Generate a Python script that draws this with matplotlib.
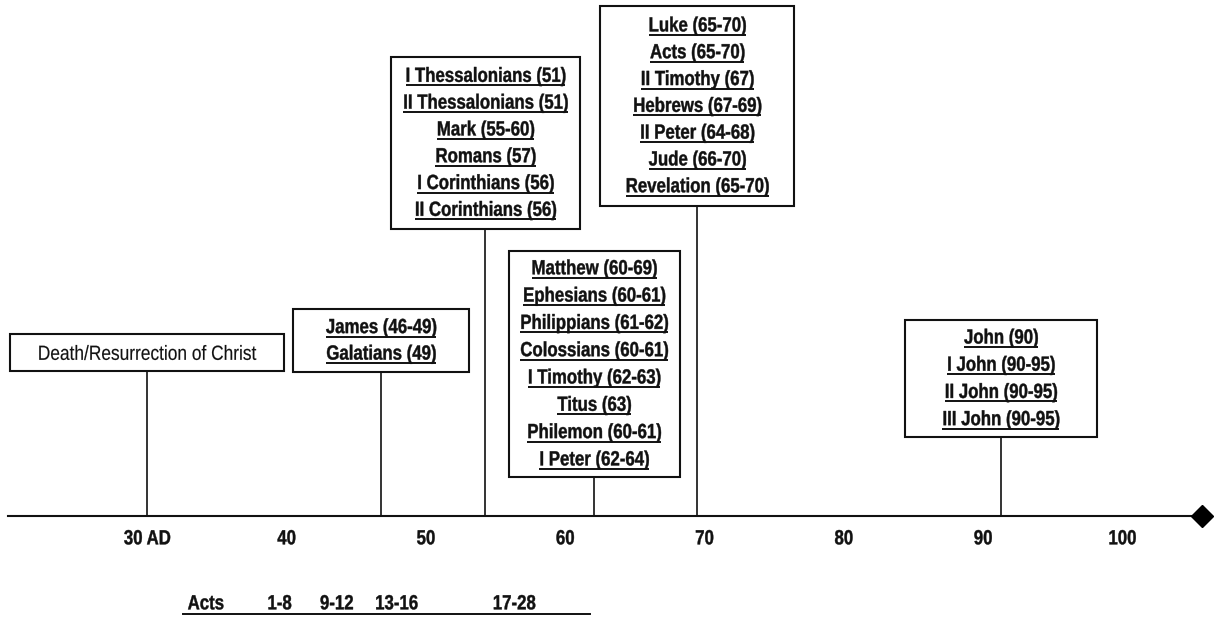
import matplotlib
matplotlib.use('Agg')
import matplotlib.pyplot as plt
from matplotlib.patches import Rectangle, PathPatch
from matplotlib.textpath import TextPath
from matplotlib.font_manager import FontProperties
from matplotlib.transforms import Affine2D

# axis ticks
tick_years = [30, 40, 50, 60, 70, 80, 90, 100]
tick_labels = ['30 AD', '40', '50', '60', '70', '80', '90', '100']

# events on the timeline (year where the stem meets the axis)
event_years = [30, 46.8, 54.3, 62.1, 69.5, 91.3]
event_texts = [
    ['Death/Resurrection of Christ'],
    ['James (46-49)', 'Galatians (49)'],
    ['I Thessalonians (51)', 'II Thessalonians (51)', 'Mark (55-60)',
     'Romans (57)', 'I Corinthians (56)', 'II Corinthians (56)'],
    ['Matthew (60-69)', 'Ephesians (60-61)', 'Philippians (61-62)',
     'Colossians (60-61)', 'I Timothy (62-63)', 'Titus (63)',
     'Philemon (60-61)', 'I Peter (62-64)'],
    ['Luke (65-70)', 'Acts (65-70)', 'II Timothy (67)', 'Hebrews (67-69)',
     'II Peter (64-68)', 'Jude (66-70)', 'Revelation (65-70)'],
    ['John (90)', 'I John (90-95)', 'II John (90-95)', 'III John (90-95)'],
]

# Acts chapters row
acts_labels = ['Acts', '1-8', '9-12', '13-16', '17-28']
acts_years = [34.2, 39.5, 43.6, 47.9, 56.35]

# ---- layout (pixel-like units on y, years on x) ----
px_per_year = 13.93
box_w_px = [275, 176, 189, 171, 194, 192]
box_top = [334, 309, 57, 251, 6, 320]
box_bot = [371, 372, 229, 477, 206, 437]
line_step = [27, 26.5, 26.8, 27.3, 26.8, 27.2]
axis_y = 516
FS = 20.5          # font size in pixels
SQUEEZE = 0.82     # narrow (condensed) look

fig = plt.figure(figsize=(12.15, 6.18), dpi=100)
ax = fig.add_axes([0, 0, 1, 1])
ax.set_xlim(30 - 147 / px_per_year, 30 + (1215 - 147) / px_per_year)
ax.set_ylim(618, 0)
ax.axis('off')

fp_bold = FontProperties(family='Liberation Sans', weight='bold')
fp_reg = FontProperties(family='Liberation Sans', weight='normal')


def narrow_text(x, yc, s, bold=True, under=False, size=FS, squeeze=SQUEEZE):
    # text squeezed horizontally, centred on (x, yc) in data coords
    tp = TextPath((0, 0), s, size=size, prop=fp_bold if bold else fp_reg)
    ext = tp.get_extents()
    w = ext.x1 * squeeze
    xd, yd = ax.transData.transform((x, yc))
    base = yd - 0.716 * size / 2
    tr = Affine2D().scale(squeeze, 1).translate(xd - w / 2, base)
    ax.add_patch(PathPatch(tp, transform=tr, facecolor='#111111',
                           edgecolor='#111111', lw=0.3 if bold else 0.1,
                           clip_on=False))
    if under:
        inv = ax.transData.inverted()
        (x0, y0), (x1, _) = inv.transform([[xd - w / 2, base - 3.5],
                                           [xd + w / 2, base - 3.5]])
        ax.plot([x0, x1], [y0, y0], color='#111111', lw=1.4,
                solid_capstyle='butt')


# main axis line with diamond end
ax.plot([30 - 139 / px_per_year, 105.7], [axis_y, axis_y], color='#111111', lw=1.5)
ax.plot([105.7], [axis_y], marker='D', color='black', markersize=11)

for yr, lab in zip(tick_years, tick_labels):
    narrow_text(yr, 537, lab)

for i, (yr, lines) in enumerate(zip(event_years, event_texts)):
    w = box_w_px[i] / px_per_year
    ax.add_patch(Rectangle((yr - w / 2, box_top[i]), w, box_bot[i] - box_top[i],
                           fill=False, edgecolor='#111111', lw=1.5))
    ax.plot([yr, yr], [box_bot[i], axis_y], color='#111111', lw=1.2)
    n = len(lines)
    mid = (box_top[i] + box_bot[i]) / 2 - 1.5
    for k, s in enumerate(lines):
        y = mid + (k - (n - 1) / 2) * line_step[i]
        if i == 0:
            narrow_text(yr, y + 1.5, s, bold=False, squeeze=0.845)
        else:
            narrow_text(yr, y, s, under=True)

for yr, lab in zip(acts_years, acts_labels):
    narrow_text(yr, 602, lab)
ax.plot([30 + (183 - 147) / px_per_year, 30 + (590 - 147) / px_per_year],
        [614, 614], color='#111111', lw=1.4)

fig.savefig('out.png', dpi=100, facecolor='white')
